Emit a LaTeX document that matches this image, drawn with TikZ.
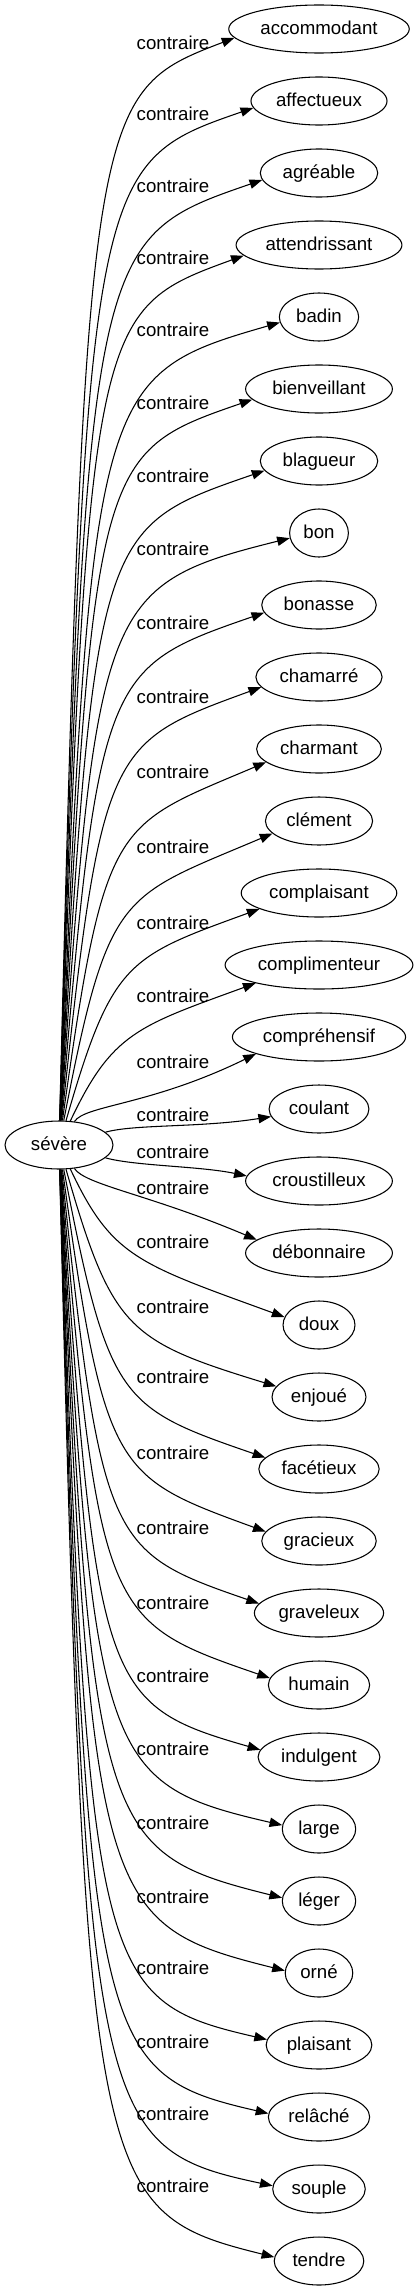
\documentclass[tikz,border=0pt]{standalone}
\usepackage{fontspec}
\setmainfont{Liberation Sans}
\usetikzlibrary{
    shapes.geometric,
    arrows.meta
}
\tikzset{
    word/.style = {
        ellipse,
        draw,
        line width=0.8pt,
        inner xsep=3.9pt,
        minimum height=36pt,
        text height=10pt,
        text depth=2pt,
        font=\fontsize{14}{16}\selectfont
    },
    rel/.style = {
        inner sep=0pt,
        font=\fontsize{14}{16}\selectfont
    },
    arrow/.style = {
        -{Triangle[length=9.5pt,width=7pt]},
        line width=0.8pt
    }
}

\begin{document}
\begin{tikzpicture}[x=0.75pt,y=-0.75pt]
\useasboundingbox (0,0) rectangle (417,2291);
\node (sev) [word,minimum width=81pt] at (59,1145) {sévère};

% name / word / label y / end anchor / arrival angle
\foreach \name/\word/\ly/\anc/\arr [count=\i from 0] in {
    accommodant/accommodant/43/186/21,
    affectueux/affectueux/114/186/19,
    agreable/agréable/186/187/19,
    attendrissant/attendrissant/258/188/20,
    badin/badin/330/188/16,
    bienveillant/bienveillant/403/189/19,
    blagueur/blagueur/476/190/19,
    bon/bon/549/190/14,
    bonasse/bonasse/623/188/19,
    chamarre/chamarré/697/190/20,
    charmant/charmant/772/194/23,
    clement/clément/847/195/23,
    complaisant/complaisant/923/195/20,
    complimenteur/complimenteur/996/196/20,
    comprehensif/compréhensif/1062/195/26,
    coulant/coulant/1115/189/9,
    croustilleux/croustilleux/1152/176/12,
    debonnaire/débonnaire/1188/168/23,
    doux/doux/1242/167/20,
    enjoue/enjoué/1307/166/17,
    facetieux/facétieux/1377/168/19,
    gracieux/gracieux/1453/170/20,
    graveleux/graveleux/1528/171/19,
    humain/humain/1603/172/19,
    indulgent/indulgent/1676/173/16,
    large/large/1749/174/13,
    leger/léger/1823/175/14,
    orne/orné/1897/176/14,
    plaisant/plaisant/1968/174/13,
    relache/relâché/2042/176/13,
    souple/souple/2114/176/12,
    tendre/tendre/2186/175/14%
}{
    \pgfmathsetmacro\yt{29+72*\i}
    \node (\name) [word] at (319,\yt) {\word};
    \node (l\name) [rel] at (173,\ly) {contraire};
    % where the arrow ends, back in picture units
    \path (\name.\anc);
    \pgfgetlastxy{\tx}{\ty}
    \pgfmathsetmacro\tipx{\tx/0.75}
    \pgfmathsetmacro\tipy{-\ty/0.75}
    \pgfmathsetmacro\side{ifthenelse(\yt<1145,1,-1)}
    \pgfmathsetmacro\dist{abs(1145-\yt)}
    \pgfmathsetmacro\hone{ifthenelse(\dist<100,15,min(68,0.66*\dist))}
    \pgfmathsetmacro\slope{min(3,1.37*(108/\dist)^1.75)}
    \pgfmathsetmacro\xa{ifthenelse(\dist<100,135,62+\slope*(\dist-\hone-23))}
    \pgfmathsetmacro\ya{\yt+\side*\hone}
    \pgfmathsetmacro\xb{ifthenelse(\dist<100,200,90+60*exp(-(\dist-108)/300))}
    \pgfmathsetmacro\yb{\tipy+\side*(\tipx-\xb)*tan(\arr)}
    \draw[arrow] (sev) .. controls (\xa,\ya) and (\xb,\yb) .. (\name.\anc);
}
\end{tikzpicture}
\end{document}
